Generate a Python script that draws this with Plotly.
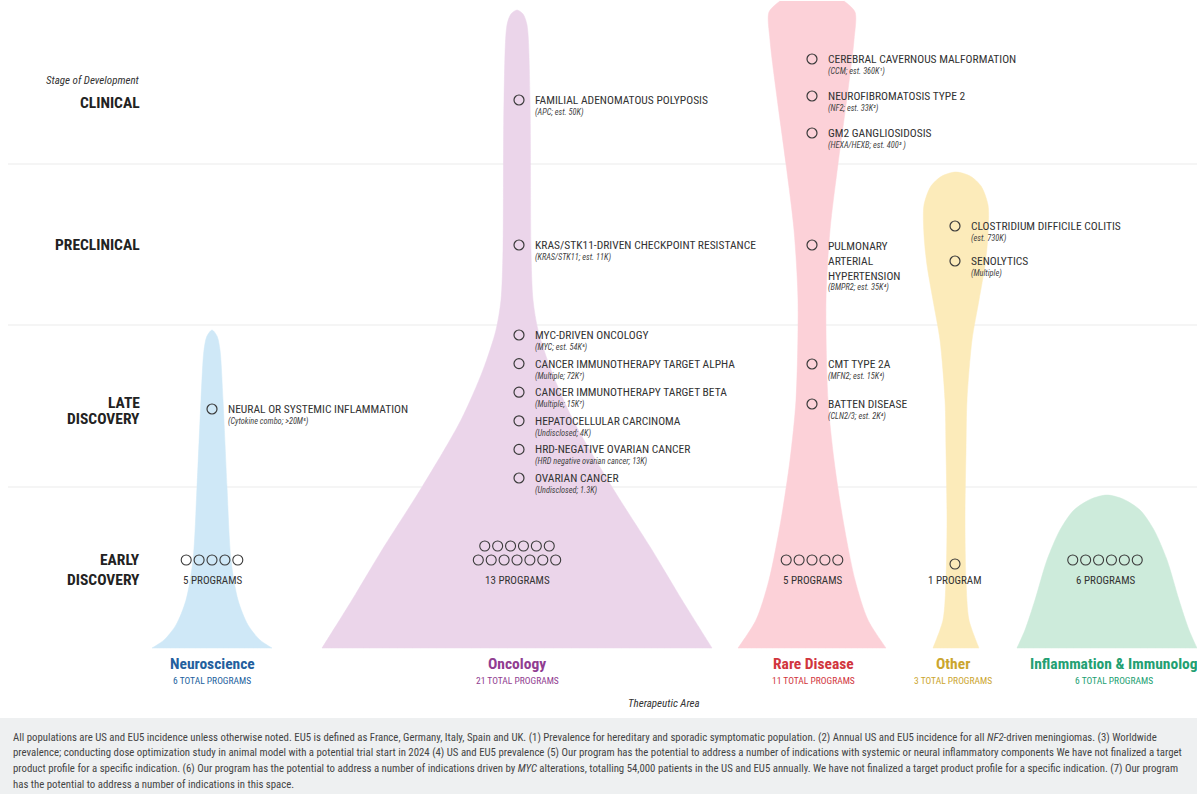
import plotly.graph_objects as go

# ---------------- data ----------------
stages = ["CLINICAL", "PRECLINICAL", "LATE DISCOVERY", "EARLY DISCOVERY"]
stage_label_lines = [["CLINICAL"], ["PRECLINICAL"], ["LATE", "DISCOVERY"], ["EARLY", "DISCOVERY"]]
areas = ["Neuroscience", "Oncology", "Rare Disease", "Other", "Inflammation & Immunology"]
area_total_programs = [6, 21, 11, 3, 6]
early_discovery_programs = [5, 13, 5, 1, 6]

program_area = ["Oncology", "Rare Disease", "Rare Disease", "Rare Disease",
                "Oncology", "Rare Disease", "Other", "Other",
                "Neuroscience", "Oncology", "Oncology", "Oncology", "Oncology", "Oncology", "Oncology",
                "Rare Disease", "Rare Disease"]
program_stage = ["CLINICAL", "CLINICAL", "CLINICAL", "CLINICAL",
                 "PRECLINICAL", "PRECLINICAL", "PRECLINICAL", "PRECLINICAL",
                 "LATE DISCOVERY", "LATE DISCOVERY", "LATE DISCOVERY", "LATE DISCOVERY",
                 "LATE DISCOVERY", "LATE DISCOVERY", "LATE DISCOVERY",
                 "LATE DISCOVERY", "LATE DISCOVERY"]
program_name = ["FAMILIAL ADENOMATOUS POLYPOSIS", "CEREBRAL CAVERNOUS MALFORMATION",
                "NEUROFIBROMATOSIS TYPE 2", "GM2 GANGLIOSIDOSIS",
                "KRAS/STK11-DRIVEN CHECKPOINT RESISTANCE", "PULMONARY<br>ARTERIAL<br>HYPERTENSION",
                "CLOSTRIDIUM DIFFICILE COLITIS", "SENOLYTICS",
                "NEURAL OR SYSTEMIC INFLAMMATION", "MYC-DRIVEN ONCOLOGY",
                "CANCER IMMUNOTHERAPY TARGET ALPHA", "CANCER IMMUNOTHERAPY TARGET BETA",
                "HEPATOCELLULAR CARCINOMA", "HRD-NEGATIVE OVARIAN CANCER", "OVARIAN CANCER",
                "CMT TYPE 2A", "BATTEN DISEASE"]
program_detail = ["(APC; est. 50K)", "(CCM; est. 360K¹)", "(NF2; est. 33K²)", "(HEXA/HEXB; est. 400³ )",
                  "(KRAS/STK11; est. 11K)", "(BMPR2; est. 35K⁴)", "(est. 730K)", "(Multiple)",
                  "(Cytokine combo; >20M⁵)", "(MYC; est. 54K⁶)", "(Multiple; 72K⁷)", "(Multiple; 15K⁷)",
                  "(Undisclosed; 4K)", "(HRD negative ovarian cancer; 13K)", "(Undisclosed; 1.3K)",
                  "(MFN2; est. 15K⁴)", "(CLN2/3; est. 2K⁴)"]

# outline of each therapeutic-area "violin": depth down the chart and half-width
neuro_depth = [330, 336, 350, 400, 487, 560, 600, 625, 640, 648]
neuro_halfwidth = [0, 5, 8, 11, 15, 19, 26, 36, 48, 60]
onc_depth = [10, 14, 25, 100, 250, 300, 330, 370, 420, 487, 550, 600, 648]
onc_halfwidth = [0, 6, 10, 13, 14, 16, 21, 34, 56, 95, 135, 165, 195]
rare_depth = [1, 12, 40, 90, 164, 230, 300, 400, 460, 520, 580, 620, 648]
rare_halfwidth = [32, 43, 42, 36, 26, 18, 14, 16, 22, 31, 43, 56, 74]
other_depth = [172, 176, 186, 205, 235, 265, 300, 340, 400, 450, 520, 580, 620, 648]
other_halfwidth = [0, 14, 25, 32, 32, 29, 23, 16, 11, 10, 9, 10, 13, 23]
ii_depth = [495, 499, 510, 530, 560, 600, 630, 648]
ii_halfwidth = [0, 16, 33, 47, 60, 72, 82, 90]

footnote_lines = [
    "All populations are US and EU5 incidence unless otherwise noted. EU5 is defined as France, Germany, Italy, Spain and UK. (1) Prevalence for hereditary and sporadic symptomatic population. (2) Annual US and EU5 incidence for all <i>NF2</i>-driven meningiomas. (3) Worldwide",
    "prevalence; conducting dose optimization study in animal model with a potential trial start in 2024 (4) US and EU5 prevalence (5) Our program has the potential to address a number of indications with systemic or neural inflammatory components We have not finalized a target",
    "product profile for a specific indication. (6) Our program has the potential to address a number of indications driven by <i>MYC</i> alterations, totalling 54,000 patients in the US and EU5 annually. We have not finalized a target product profile for a specific indication. (7) Our program",
    "has the potential to address a number of indications in this space.",
]

# ---------------- layout / style ----------------
W, H = 1197, 794
FONT = "Liberation Sans Narrow, Roboto Condensed, Arial Narrow, Roboto, sans-serif"
AREA_X = {"Neuroscience": 212, "Oncology": 517, "Rare Disease": 812, "Other": 956,
          "Inflammation & Immunology": 1107}
MARKER_X = {"Neuroscience": 212, "Oncology": 519, "Rare Disease": 812, "Other": 955}
LABEL_X = {"Neuroscience": 212, "Oncology": 517, "Rare Disease": 813, "Other": 953,
           "Inflammation & Immunology": 1117}
FILL = {"Neuroscience": "#cfe8f7", "Oncology": "#ebd5ea", "Rare Disease": "#fcd1d8",
        "Other": "#fcebba", "Inflammation & Immunology": "#cdebdb"}
TITLE_COL = {"Neuroscience": "#235f9e", "Oncology": "#913d91", "Rare Disease": "#d1353d",
             "Other": "#cba52e", "Inflammation & Immunology": "#22a072"}
PROFILES = {"Neuroscience": (neuro_depth, neuro_halfwidth), "Oncology": (onc_depth, onc_halfwidth),
            "Rare Disease": (rare_depth, rare_halfwidth), "Other": (other_depth, other_halfwidth),
            "Inflammation & Immunology": (ii_depth, ii_halfwidth)}
STAGE_Y = {"CLINICAL": 100, "PRECLINICAL": 245, "LATE DISCOVERY": 406, "EARLY DISCOVERY": 560}
STAGE_LABEL_Y = {"CLINICAL": [103], "PRECLINICAL": [245], "LATE DISCOVERY": [403, 419],
                 "EARLY DISCOVERY": [560, 580]}
GROUP_SPACING = {("Rare Disease", "CLINICAL"): 37, ("Other", "PRECLINICAL"): 35,
                 ("Oncology", "LATE DISCOVERY"): 28.6, ("Rare Disease", "LATE DISCOVERY"): 40}
GROUP_SHIFT = {("Rare Disease", "CLINICAL"): -4, ("Other", "PRECLINICAL"): -1.5,
               ("Neuroscience", "LATE DISCOVERY"): 3, ("Oncology", "LATE DISCOVERY"): 0.5,
               ("Rare Disease", "LATE DISCOVERY"): -22}
GRID_Y = [164, 325, 487]

fig = go.Figure()

# violins (base corners doubled so the spline keeps them sharp)
for a in areas:
    d, hw = PROFILES[a]
    cx = AREA_X[a]
    left_x = [cx - w for w in hw] + [cx - hw[-1]]
    left_y = list(d) + [d[-1]]
    right_x = [cx + hw[-1]] + [cx + w for w in reversed(hw)]
    right_y = [d[-1]] + list(reversed(d))
    fig.add_trace(go.Scatter(x=left_x + right_x, y=left_y + right_y, mode="lines", fill="toself",
                             fillcolor=FILL[a],
                             line=dict(color=FILL[a], width=0.5, shape="spline", smoothing=0.8),
                             hoverinfo="skip", showlegend=False))

annotations = []
# pipeline programs
groups = {}
for i, (a, s) in enumerate(zip(program_area, program_stage)):
    groups.setdefault((a, s), []).append(i)
mx, my = [], []
for (a, s), idxs in groups.items():
    n = len(idxs)
    sp = GROUP_SPACING.get((a, s), 0)
    base = STAGE_Y[s] + GROUP_SHIFT.get((a, s), 0)
    for k, i in enumerate(idxs):
        cy = base + (k - (n - 1) / 2) * sp
        cx = MARKER_X[a]
        mx.append(cx)
        my.append(cy)
        nlines = program_name[i].count("<br>") + 1
        tx = cx + 14
        if nlines == 1:
            annotations.append(dict(x=tx, y=cy, text=program_name[i], xanchor="left", yanchor="middle",
                                    font=dict(family=FONT, size=11.5, color="#333")))
        else:
            annotations.append(dict(x=tx, y=cy - 8, text=program_name[i], xanchor="left", yanchor="top",
                                    align="left", font=dict(family=FONT, size=11.5, color="#333")))
        annotations.append(dict(x=tx, y=cy + 12.5 + 15 * (nlines - 1), text="<i>" + program_detail[i] + "</i>",
                                xanchor="left", yanchor="middle",
                                font=dict(family=FONT, size=8.3, color="#444")))
fig.add_trace(go.Scatter(x=mx, y=my, mode="markers", hoverinfo="skip", showlegend=False,
                         marker=dict(symbol="circle-open", size=10, color="#3a3a3a", line=dict(width=1.2))))

# early discovery circles
ex, ey = [], []
for a, n in zip(areas, early_discovery_programs):
    cx = AREA_X[a] - (1 if a == "Other" else 0) - (2 if a == "Inflammation & Immunology" else 0)
    if n > 7:
        rows = [n // 2, n - n // 2]
    else:
        rows = [n]
    for r, cnt in enumerate(rows):
        y = 560 - 14 * (len(rows) - 1 - r) + (4 if n == 1 else 0)
        for k in range(cnt):
            ex.append(cx + (k - (cnt - 1) / 2) * 12.9)
            ey.append(y)
    label = f"{n} PROGRAM" + ("S" if n != 1 else "")
    annotations.append(dict(x=cx, y=580, text=label, xanchor="center", yanchor="middle",
                            font=dict(family=FONT, size=11, color="#333")))
fig.add_trace(go.Scatter(x=ex, y=ey, mode="markers", hoverinfo="skip", showlegend=False,
                         marker=dict(symbol="circle-open", size=10, color="#3a3a3a", line=dict(width=1.1))))

# area titles
for a, t in zip(areas, area_total_programs):
    annotations.append(dict(x=LABEL_X[a], y=664, text=f"<b>{a}</b>", xanchor="center", yanchor="middle",
                            font=dict(family=FONT, size=15.5, color=TITLE_COL[a])))
    sub_x = LABEL_X[a] - (3 if a == "Inflammation & Immunology" else 0)
    annotations.append(dict(x=sub_x, y=680, text=f"{t} TOTAL PROGRAMS", xanchor="center", yanchor="middle",
                            font=dict(family=FONT, size=9.5, color=TITLE_COL[a])))

# stage labels
annotations.append(dict(x=142, y=80, text="<i>Stage of Development</i>", xanchor="right", yanchor="middle",
                        font=dict(family=FONT, size=11, color="#333")))
for s, lines in zip(stages, stage_label_lines):
    for line, y in zip(lines, STAGE_LABEL_Y[s]):
        annotations.append(dict(x=142, y=y, text=f"<b>{line}</b>", xanchor="right", yanchor="middle",
                                font=dict(family=FONT, size=15.5, color="#222")))

annotations.append(dict(x=664, y=703, text="<i>Therapeutic Area</i>", xanchor="center", yanchor="middle",
                        font=dict(family=FONT, size=11, color="#333")))

# footnote
for k, line in enumerate(footnote_lines):
    annotations.append(dict(x=11, y=737 + 15.7 * k, text=line, xanchor="left", yanchor="middle",
                            font=dict(family=FONT, size=10.8, color="#444")))

for a_ in annotations:
    a_.update(xref="x", yref="y", showarrow=False)

shapes = [dict(type="line", xref="x", yref="y", x0=8, x1=W, y0=g, y1=g,
               line=dict(color="#ebebeb", width=1), layer="below") for g in GRID_Y]
shapes.append(dict(type="rect", xref="x", yref="y", x0=0, x1=W, y0=718, y1=H,
                   fillcolor="#eef0f1", line=dict(width=0), layer="below"))

fig.update_layout(width=W, height=H, margin=dict(l=0, r=0, t=0, b=0),
                  paper_bgcolor="white", plot_bgcolor="white",
                  xaxis=dict(range=[0, W], visible=False, fixedrange=True),
                  yaxis=dict(range=[H, 0], visible=False, fixedrange=True),
                  annotations=annotations, shapes=shapes, showlegend=False)
fig.write_html("out.html", config={"displayModeBar": False},
               post_script="document.body.style.margin='0px';document.body.style.overflow='hidden';")
